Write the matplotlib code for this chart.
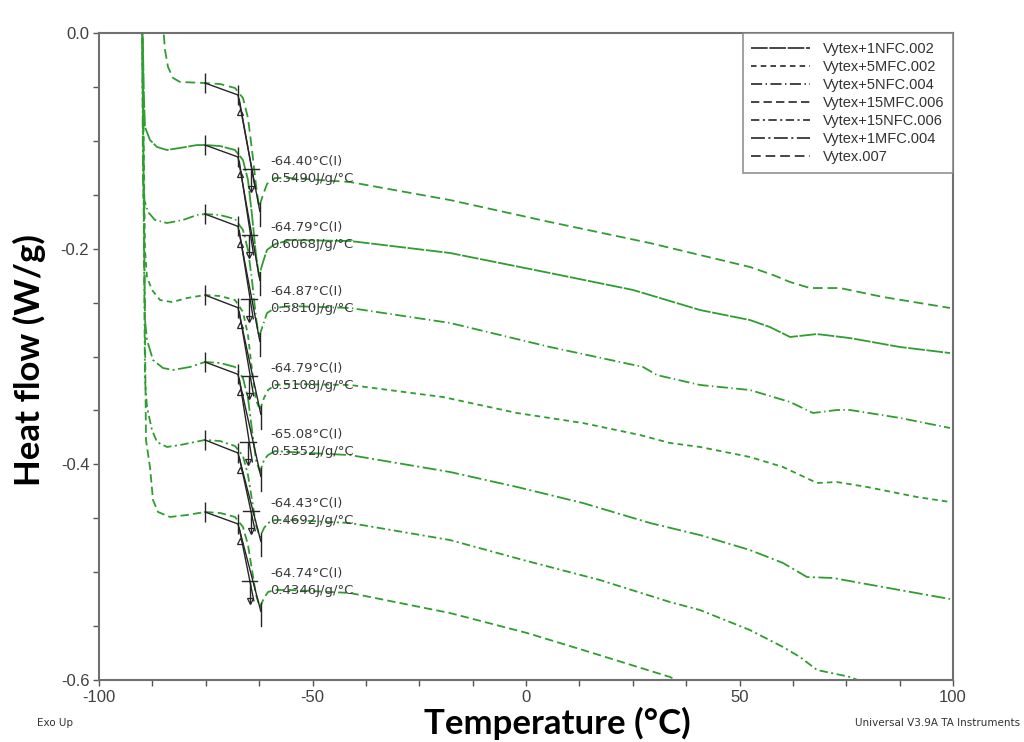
import numpy as np
import matplotlib
matplotlib.use("Agg")
import matplotlib.pyplot as plt
from matplotlib.lines import Line2D
from matplotlib.ticker import MultipleLocator, FormatStrFormatter

plt.rcParams['font.family'] = ['Liberation Sans', 'DejaVu Sans']
plt.rcParams['axes.unicode_minus'] = False
plt.rcParams['lines.scale_dashes'] = False

# ---------------- data (temperature °C, heat flow W/g) ----------------
curve1 = [(-85.10, 0.012), (-84.54, -0.0158), (-83.84, -0.0315), (-82.67, -0.0417), (-81.03, -0.0454),
          (-75.18, -0.0464), (-71.66, -0.0473), (-68.15, -0.0510), (-66.28, -0.0603), (-65.11, -0.0788),
          (-64.17, -0.1085), (-63.23, -0.1410), (-62.53, -0.1614), (-61.59, -0.1502), (-60.66, -0.1400),
          (-58.78, -0.1345), (-55.27, -0.1345), (-41.22, -0.1382), (-17.80, -0.1549), (5.62, -0.1753),
          (29.04, -0.1948), (40.75, -0.2059), (52.46, -0.2170), (57.85, -0.2244), (61.83, -0.2309),
          (66.51, -0.2365), (73.54, -0.2365), (83.61, -0.2448), (99.30, -0.2550)]
curve2 = [(-89.93, 0.031), (-89.46, -0.0621), (-89.23, -0.0872), (-88.06, -0.0992), (-86.42, -0.1057),
          (-84.07, -0.1085), (-81.03, -0.1066), (-77.05, -0.1039), (-75.18, -0.1039), (-71.66, -0.1048),
          (-68.15, -0.1085), (-66.28, -0.1178), (-65.11, -0.1363), (-64.17, -0.1688), (-63.23, -0.2059),
          (-62.53, -0.2254), (-61.59, -0.2124), (-60.66, -0.2012), (-58.78, -0.1957), (-55.27, -0.1920),
          (-41.22, -0.1929), (-17.80, -0.2040), (5.62, -0.2226), (25.06, -0.2383), (29.04, -0.2430),
          (40.75, -0.2569), (52.46, -0.2662), (57.14, -0.2727), (61.83, -0.2819), (68.15, -0.2792),
          (75.88, -0.2829), (87.59, -0.2912), (99.30, -0.2968)]
curve3 = [(-89.93, 0.031), (-89.70, -0.1363), (-89.60, -0.1521), (-88.52, -0.1660), (-86.89, -0.1734),
          (-84.07, -0.1762), (-80.33, -0.1734), (-77.05, -0.1688), (-75.18, -0.1679), (-71.66, -0.1688),
          (-68.15, -0.1725), (-66.28, -0.1827), (-65.11, -0.2012), (-64.17, -0.2291), (-63.23, -0.2643),
          (-62.53, -0.2819), (-61.59, -0.2708), (-60.66, -0.2597), (-58.78, -0.2550), (-55.27, -0.2532),
          (-41.22, -0.2550), (-17.80, -0.2689), (5.62, -0.2912), (27.40, -0.3097), (30.68, -0.3172),
          (33.72, -0.3200), (40.75, -0.3264), (52.46, -0.3311), (61.83, -0.3422), (67.21, -0.3524),
          (72.83, -0.3496), (75.88, -0.3496), (87.59, -0.3570), (99.30, -0.3663)]
curve4 = [(-89.93, 0.031), (-89.23, -0.2012), (-88.76, -0.2263), (-87.59, -0.2383), (-85.71, -0.2476),
          (-82.90, -0.2495), (-79.39, -0.2458), (-75.18, -0.2430), (-71.66, -0.2439), (-68.15, -0.2476),
          (-66.28, -0.2587), (-65.11, -0.2801), (-64.17, -0.3125), (-63.23, -0.3404), (-62.30, -0.3496),
          (-61.36, -0.3385), (-60.42, -0.3311), (-58.78, -0.3264), (-55.27, -0.3255), (-41.22, -0.3264),
          (-19.44, -0.3376), (-2.11, -0.3524), (13.35, -0.3617), (26.70, -0.3728), (33.72, -0.3802),
          (40.75, -0.3839), (52.46, -0.3932), (60.19, -0.4025), (64.17, -0.4099), (68.15, -0.4173),
          (72.83, -0.4164), (79.86, -0.4210), (91.57, -0.4303), (99.30, -0.4349)]
curve5 = [(-89.93, 0.031), (-89.23, -0.2662), (-88.76, -0.2847), (-87.35, -0.3033), (-85.01, -0.3107),
          (-82.67, -0.3125), (-78.69, -0.3097), (-75.18, -0.3051), (-71.66, -0.3060), (-68.15, -0.3097),
          (-66.28, -0.3200), (-65.11, -0.3385), (-64.17, -0.3682), (-63.23, -0.3960), (-62.30, -0.4071),
          (-61.36, -0.3960), (-60.42, -0.3914), (-58.78, -0.3877), (-55.27, -0.3886), (-41.22, -0.3914),
          (-17.80, -0.4071), (-2.11, -0.4210), (13.35, -0.4359), (29.04, -0.4544), (40.75, -0.4656),
          (52.46, -0.4795), (60.19, -0.4915), (65.81, -0.5045), (71.90, -0.5054), (83.61, -0.5138),
          (99.30, -0.5249)]
curve6 = [(-89.93, 0.031), (-89.23, -0.3218), (-88.76, -0.3468), (-87.59, -0.3682), (-86.42, -0.3793),
          (-84.07, -0.3839), (-81.03, -0.3821), (-75.18, -0.3774), (-71.66, -0.3784), (-68.15, -0.3830),
          (-66.28, -0.3923), (-65.11, -0.4099), (-64.17, -0.4331), (-63.23, -0.4563), (-62.30, -0.4674),
          (-61.36, -0.4591), (-60.42, -0.4544), (-58.78, -0.4516), (-55.27, -0.4516), (-41.22, -0.4544),
          (-17.80, -0.4702), (-0.70, -0.4887), (17.33, -0.5073), (33.72, -0.5277), (40.75, -0.5351),
          (52.46, -0.5537), (60.19, -0.5694), (64.17, -0.5787), (68.15, -0.5907), (75.88, -0.5972),
          (78.22, -0.6009)]
curve7 = [(-89.93, 0.031), (-89.00, -0.3774), (-88.06, -0.4025), (-87.35, -0.4331), (-86.18, -0.4442),
          (-83.37, -0.4488), (-79.39, -0.4470), (-75.18, -0.4442), (-71.66, -0.4451), (-68.15, -0.4488),
          (-66.28, -0.4581), (-65.11, -0.4748), (-64.17, -0.4980), (-63.23, -0.5212), (-62.30, -0.5323),
          (-61.36, -0.5240), (-60.42, -0.5184), (-58.78, -0.5165), (-55.27, -0.5165), (-41.22, -0.5193),
          (-17.80, -0.5379), (0.23, -0.5564), (13.35, -0.5722), (33.72, -0.5972), (36.07, -0.6019)]

curves = [curve1, curve2, curve3, curve4, curve5, curve6, curve7]
curve_names = ["Vytex.007", "Vytex+1NFC.002", "Vytex+5NFC.004", "Vytex+5MFC.002",
               "Vytex+1MFC.004", "Vytex+15NFC.006", "Vytex+15MFC.006"]
legend_order = ["Vytex+1NFC.002", "Vytex+5MFC.002", "Vytex+5NFC.004", "Vytex+15MFC.006",
                "Vytex+15NFC.006", "Vytex+1MFC.004", "Vytex.007"]
tg_temps = [-64.40, -64.79, -64.87, -64.79, -65.08, -64.43, -64.74]
cp_steps = [0.5490, 0.6068, 0.5810, 0.5108, 0.5352, 0.4692, 0.4346]
onset_t = -75.18
tangent_end_t = -67.45

x_ticks = [-100, -50, 0, 50, 100]
y_ticks = [0.0, -0.2, -0.4, -0.6]

# ---------------- styles ----------------
dash_styles = {
    "Vytex+1NFC.002": (0, (12, 1.2)),
    "Vytex+5MFC.002": (0, (4, 3)),
    "Vytex+5NFC.004": (0, (8, 2.5, 1, 2.5)),
    "Vytex+15MFC.006": (0, (6, 3)),
    "Vytex+15NFC.006": (0, (6, 2.5, 1.5, 2.5)),
    "Vytex+1MFC.004": (0, (10, 2.5, 1.5, 2.5)),
    "Vytex.007": (0, (7, 3.5)),
}
green = '#2f9d2f'
black = '#262626'

fig = plt.figure(figsize=(10.24, 7.42), dpi=100)
ax = fig.add_axes([99/1024, 1-680/742, (953-99)/1024, (680-33)/742])

for data, name in zip(curves, curve_names):
    t = np.array([p[0] for p in data])
    h = np.array([p[1] for p in data])
    ax.plot(t, h, color=green, lw=1.3, linestyle=dash_styles[name], zorder=2)

# glass transition analysis marks
for data, tg, cp in zip(curves, tg_temps, cp_steps):
    t = np.array([p[0] for p in data])
    h = np.array([p[1] for p in data])
    y1 = np.interp(onset_t, t, h)
    y2 = np.interp(tangent_end_t, t, h) - 0.003
    mask = (t > -66) & (t < -60)
    i_min = np.argmin(np.where(mask, h, 1))
    t_min, h_min = t[i_min], h[i_min]
    post = np.interp(-58.78, t, h)
    kw = dict(color=black, lw=1.0, zorder=3)
    ax.plot([onset_t, tangent_end_t], [y1, y2], **kw)
    ax.plot([onset_t], [y1], marker='|', ms=14, mew=1.0, color=black, zorder=3)
    ax.plot([tangent_end_t], [y2], marker='|', ms=14, mew=1.0, color=black, zorder=3)
    ax.plot([tangent_end_t, t_min + 0.2], [y2, h_min - 0.004], **kw)
    ax.plot([t_min + 0.2, t_min + 0.2], [h_min + 0.004, h_min - 0.018], **kw)
    ax.plot([tangent_end_t + 0.3, tg + 1.0], [y2 - 0.004, post - 0.010], **kw)
    ax.plot([tg - 1.8, tg + 1.8], [post + 0.008, post + 0.008], **kw)
    ax.plot([tg, tg], [post + 0.008, post - 0.012], **kw)
    ax.plot([tg], [post - 0.010], marker='v', ms=5, mfc='none', mec=black, mew=0.9, zorder=3)
    ax.plot([tangent_end_t + 0.4], [y2 - 0.016], marker='^', ms=5, mfc='none', mec=black, mew=0.9, zorder=3)
    ax.text(-59.95, post + 0.0075, f"{tg:.2f}°C(I)\n{cp:.4f}J/g/°C", fontsize=9.5,
            family='DejaVu Sans', color='#3a3a3a', ha='left', va='center', linespacing=1.45, zorder=4)

ax.set_xlim(-100, 100)
ax.set_ylim(-0.6, 0.0)
ax.set_xticks(x_ticks)
ax.set_yticks(y_ticks)
ax.xaxis.set_minor_locator(MultipleLocator(12.5))
ax.yaxis.set_minor_locator(MultipleLocator(0.05))
ax.yaxis.set_major_formatter(FormatStrFormatter('%.1f'))
ax.tick_params(axis='both', which='both', direction='out', color='#555555', width=1.0,
               labelsize=12, labelcolor='#404040')
ax.tick_params(axis='both', which='major', length=4, pad=3)
ax.tick_params(axis='both', which='minor', length=4)
for s in ax.spines.values():
    s.set_color('#707070')
    s.set_linewidth(1.5)

handles = [Line2D([0], [0], color=black, lw=1.2, linestyle=dash_styles[n]) for n in legend_order]
leg = ax.legend(handles, legend_order, loc='upper right', bbox_to_anchor=(1.0, 1.0),
                borderaxespad=0, frameon=True, fancybox=False, edgecolor='#808080',
                prop={'family': 'Liberation Sans', 'size': 10.5}, handlelength=4.0,
                handletextpad=0.9, labelspacing=0.28, borderpad=0.6)
leg.get_frame().set_linewidth(1.3)
for txt in leg.get_texts():
    txt.set_color('#333333')

fig.text(29/1024, 1-360/742, "Heat flow (W/g)", rotation=90, ha='center', va='center',
         family='Lato', weight='bold', fontsize=25, color='black')
fig.text(557/1024, 1-734/742, "Temperature (°C)", ha='center', va='baseline',
         family='Lato', weight='bold', fontsize=25, color='black')
fig.text(37/1024, 1-726/742, "Exo Up", ha='left', va='baseline', family='DejaVu Sans',
         fontsize=7.5, color='#333333')
fig.text(855/1024, 1-726/742, "Universal V3.9A TA Instruments", ha='left', va='baseline',
         family='DejaVu Sans', fontsize=7.5, color='#333333')

fig.savefig('out.png', dpi=100)
